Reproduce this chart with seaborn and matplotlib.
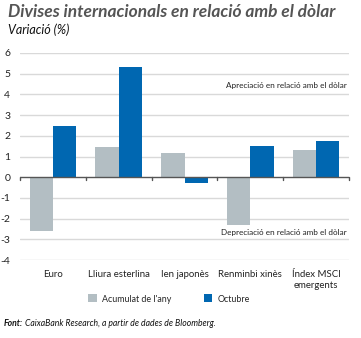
import matplotlib
matplotlib.use("Agg")
import matplotlib.pyplot as plt
import seaborn as sns
import pandas as pd

categories = ["Euro", "Lliura esterlina", "Ien japonès", "Renminbi xinès", "Índex MSCI\nemergents"]
acumulat = [-2.62, 1.45, 1.17, -2.33, 1.33]
octubre = [2.48, 5.30, -0.27, 1.50, 1.77]
series_names = ["Acumulat de l'any", "Octubre"]
yticks = [-4, -3, -2, -1, 0, 1, 2, 3, 4, 5, 6]

df = pd.DataFrame({
    "cat": categories * 2,
    "serie": [series_names[0]] * 5 + [series_names[1]] * 5,
    "val": acumulat + octubre,
})

sns.set_theme(style="white")
plt.rcParams["font.family"] = ["Lato", "DejaVu Sans"]

W, H = 361, 338
fig = plt.figure(figsize=(W / 100, H / 100), dpi=100)
ax = fig.add_axes([20 / W, 1 - 260 / H, (349 - 20) / W, (260 - 53) / H])

grey = "#b3bec3"
blue = "#0067b1"
sns.barplot(data=df, x="cat", y="val", hue="serie", hue_order=series_names,
            palette=[grey, blue], width=0.71, ax=ax, saturation=1,
            linewidth=0, legend=True, zorder=3)

ax.set_xlim(-0.5, 4.5)
ax.set_ylim(-4, 6)
ax.set_yticks(yticks)
ax.set_yticklabels([str(t) for t in yticks], fontsize=7.5, color="#222222")
for yv in yticks:
    if yv != 0:
        ax.axhline(yv, color="#d9d9d9", lw=1.0, zorder=1)
ax.axhline(0, color="#555555", lw=1.0, zorder=4)
for b in range(6):
    ax.plot([b - 0.5, b - 0.5], [0, -0.12], color="#555555", lw=1.0, zorder=4,
            clip_on=False)
for s in ax.spines.values():
    s.set_visible(False)
ax.tick_params(axis="y", length=0, pad=7)
ax.tick_params(axis="x", length=0, pad=7)
ax.set_xticks(range(5))
ax.set_xticklabels(categories, fontsize=6.9, color="#222222", linespacing=1.35)
ax.set_xlabel("")
ax.set_ylabel("")

ax.text(4.47, 4.45, "Apreciació en relació amb el dòlar", ha="right", va="center",
        fontsize=5.9, color="#222222")
ax.text(4.47, -2.65, "Depreciació en relació amb el dòlar", ha="right", va="center",
        fontsize=5.9, color="#222222")

sns.move_legend(ax, "center left", bbox_to_anchor=(88 / W, 1 - 299 / H),
                bbox_transform=fig.transFigure, ncol=2, frameon=False,
                title=None, fontsize=6.4, handlelength=1.0, handleheight=1.0,
                columnspacing=3.6, handletextpad=0.6, borderaxespad=0, borderpad=0)

fig.text(8 / W, 1 - 12 / H, "Divises internacionals en relació amb el dòlar",
         fontsize=12.5, fontweight="bold", fontstyle="italic", color="#555555",
         ha="left", va="center")
fig.text(8 / W, 1 - 30 / H, "Variació (%)", fontsize=9, fontstyle="italic",
         color="#111111", ha="left", va="center")

t1 = fig.text(4 / W, 1 - 324 / H, "Font:", fontsize=6.2, fontweight="bold",
              fontstyle="italic", color="#111111", ha="left", va="center")
fig.canvas.draw()
bb = t1.get_window_extent()
fig.text((bb.x1 + 1.5) / W, 1 - 324 / H, "CaixaBank Research, a partir de dades de Bloomberg.",
         fontsize=6.2, fontstyle="italic", color="#111111", ha="left", va="center")

fig.savefig("out.png", dpi=100)
